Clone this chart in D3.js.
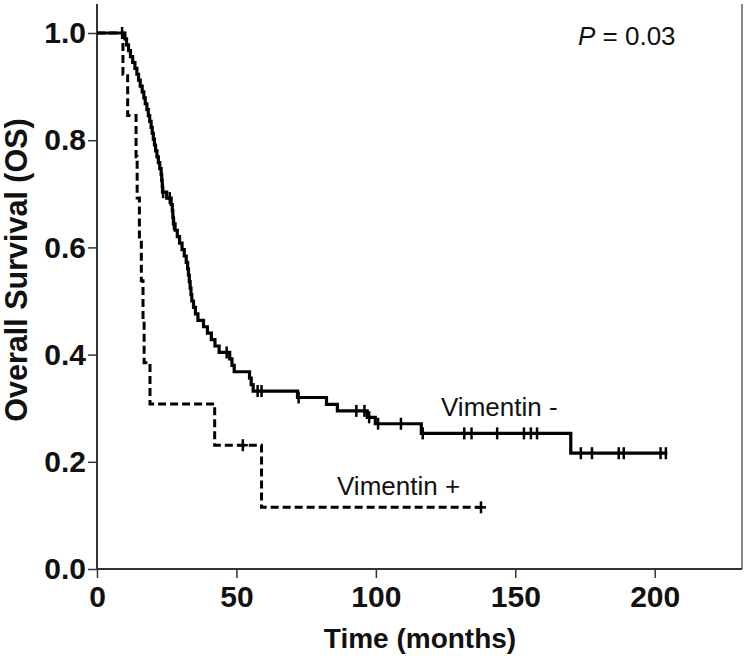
<!DOCTYPE html>
<html>
<head>
<meta charset="utf-8">
<script src="https://cdn.jsdelivr.net/npm/d3@7"></script>
<style>
  html, body { margin: 0; padding: 0; background: #fff; }
  svg { display: block; }
</style>
</head>
<body>
<svg id="chart" width="750" height="662"></svg>
<script>
// ---- data ----
const xTicks = [0, 50, 100, 150, 200];
const yTicks = [0.0, 0.2, 0.4, 0.6, 0.8, 1.0];

// Vimentin - : event times (months) and survival after each event
const negEventTimes = [10.0, 10.6, 11.3, 12.0, 12.8, 13.6, 14.3, 14.9, 15.5, 16.2, 16.8, 17.3, 17.9, 18.4, 18.9, 19.4, 19.8, 20.2, 20.6, 21.0, 21.5, 22.0, 22.5, 23.0, 23.2, 23.4, 23.5, 25.0, 26.6, 27.0, 27.2, 27.4, 28.0, 28.8, 29.6, 30.5, 31.3, 32.0, 32.5, 32.8, 33.1, 33.4, 33.7, 34.0, 34.6, 35.3, 36.2, 38.2, 39.6, 41.0, 42.3, 43.8, 47.6, 48.4, 49.2, 54.7, 55.3, 56.0, 71.9, 82.3, 86.2, 96.9, 99.8, 116.3, 169.9];
const negSurvival   = [0.989, 0.978, 0.967, 0.956, 0.945, 0.934, 0.923, 0.912, 0.901, 0.890, 0.879, 0.868, 0.857, 0.846, 0.835, 0.824, 0.813, 0.802, 0.791, 0.780, 0.769, 0.758, 0.747, 0.736, 0.725, 0.714, 0.703, 0.692, 0.680, 0.668, 0.656, 0.644, 0.632, 0.620, 0.608, 0.596, 0.584, 0.572, 0.560, 0.548, 0.536, 0.524, 0.512, 0.500, 0.488, 0.476, 0.464, 0.452, 0.440, 0.428, 0.416, 0.404, 0.392, 0.380, 0.368, 0.356, 0.344, 0.332, 0.320, 0.307, 0.295, 0.283, 0.271, 0.253, 0.216];
const negCensorTimes = [9.0, 23.7, 26.1, 27.6, 46.5, 57.6, 59.0, 72.3, 93.0, 95.9, 97.6, 100.8, 109.0, 116.8, 131.7, 134.3, 143.5, 153.1, 155.6, 157.8, 173.5, 177.5, 187.1, 188.9, 202.1, 204.0];
const negEnd = 204.5;

// Vimentin + : event times and survival after each event
const posEventTimes = [9.3, 11.0, 14.0, 14.4, 15.2, 15.9, 16.5, 16.9, 19.0, 42.2, 59.0];
const posSurvival   = [0.923, 0.846, 0.769, 0.692, 0.615, 0.538, 0.462, 0.385, 0.308, 0.231, 0.115];
const posCensorTimes = [52.3, 137.7];
const posEnd = 137.7;

const seriesNames = ["Vimentin -", "Vimentin +"];
const pText = "= 0.03";

// ---- layout ----
const svg = d3.select("#chart");
const x0 = 97, x1 = 742, y0 = 569, y1 = 33;
const x = d3.scaleLinear().domain([0, 231.3]).range([x0, x1]);
const y = d3.scaleLinear().domain([0, 1]).range([y0, y1]);

const FONT = "'Liberation Sans', Arial, Helvetica, sans-serif";

function stepPoints(times, surv, end) {
  const pts = [[0, 1]];
  let s = 1;
  times.forEach((t, i) => {
    pts.push([t, s]);
    s = surv[i];
    pts.push([t, s]);
  });
  pts.push([end, s]);
  return pts;
}
function survAt(times, surv, t) {
  let s = 1;
  times.forEach((tt, i) => { if (tt <= t) s = surv[i]; });
  return s;
}

const line = d3.line().x(d => x(d[0])).y(d => y(d[1]));

// frame lines
svg.append("line").attr("x1", x1).attr("x2", x1).attr("y1", 4).attr("y2", y0)
  .attr("stroke", "#888").attr("stroke-width", 2);

// axes
const yAxis = d3.axisLeft(y).tickValues(yTicks).tickFormat(d3.format(".1f")).tickSize(9).tickPadding(2);
const gy = svg.append("g").attr("transform", `translate(${x0},0)`).call(yAxis);
gy.select(".domain").remove();
gy.append("line").attr("x1", 0).attr("x2", 0).attr("y1", 4).attr("y2", y0)
  .attr("stroke", "#333").attr("stroke-width", 2);
gy.selectAll(".tick line").attr("stroke", "#333").attr("stroke-width", 1.5);
gy.selectAll(".tick text").attr("font-family", FONT).attr("font-weight", "bold")
  .attr("font-size", 30).attr("fill", "#111");

const xAxis = d3.axisBottom(x).tickValues(xTicks).tickFormat(d3.format("d")).tickSize(9).tickPadding(8);
const gx = svg.append("g").attr("transform", `translate(0,${y0})`).call(xAxis);
gx.select(".domain").remove();
gx.append("line").attr("x1", x0).attr("x2", x1).attr("y1", 0).attr("y2", 0)
  .attr("stroke", "#333").attr("stroke-width", 2);
gx.selectAll(".tick line").attr("stroke", "#333").attr("stroke-width", 1.5);
gx.selectAll(".tick text").attr("font-family", FONT).attr("font-weight", "bold")
  .attr("font-size", 30).attr("fill", "#111");

// axis titles
svg.append("text").attr("x", 420).attr("y", 648).attr("text-anchor", "middle")
  .attr("font-family", FONT).attr("font-weight", "bold").attr("font-size", 28).attr("fill", "#111")
  .text("Time (months)");
svg.append("text").attr("transform", "translate(27,270) rotate(-90)").attr("text-anchor", "middle")
  .attr("font-family", FONT).attr("font-weight", "bold").attr("font-size", 30.5).attr("fill", "#111")
  .text("Overall Survival (OS)");

// curves
svg.append("path").datum(stepPoints(posEventTimes, posSurvival, posEnd))
  .attr("d", line).attr("fill", "none").attr("stroke", "#000").attr("stroke-width", 3)
  .attr("stroke-dasharray", "8,4");
svg.append("path").datum(stepPoints(negEventTimes, negSurvival, negEnd))
  .attr("d", line).attr("fill", "none").attr("stroke", "#000").attr("stroke-width", 3.2);

// censor marks
function censors(times, evT, evS, horiz) {
  const g = svg.append("g");
  times.forEach(t => {
    const cx = x(t), cy = y(survAt(evT, evS, t));
    g.append("line").attr("x1", cx).attr("x2", cx).attr("y1", cy - 6).attr("y2", cy + 6)
      .attr("stroke", "#000").attr("stroke-width", 2.5);
    if (horiz) g.append("line").attr("x1", cx - 5).attr("x2", cx + 5).attr("y1", cy).attr("y2", cy)
      .attr("stroke", "#000").attr("stroke-width", 2.5);
  });
}
censors(negCensorTimes, negEventTimes, negSurvival, false);
censors(posCensorTimes, posEventTimes, posSurvival, true);

// labels
svg.append("text").attr("x", 441).attr("y", 416).attr("font-family", FONT).attr("font-size", 26).attr("fill", "#111")
  .text(seriesNames[0]);
svg.append("text").attr("x", 337).attr("y", 495).attr("font-family", FONT).attr("font-size", 26).attr("fill", "#111")
  .text(seriesNames[1]);
const pt = svg.append("text").attr("x", 578).attr("y", 45).attr("font-family", FONT).attr("font-size", 26).attr("fill", "#111");
pt.append("tspan").attr("font-style", "italic").text("P");
pt.append("tspan").text(" " + pText);
</script>
</body>
</html>
